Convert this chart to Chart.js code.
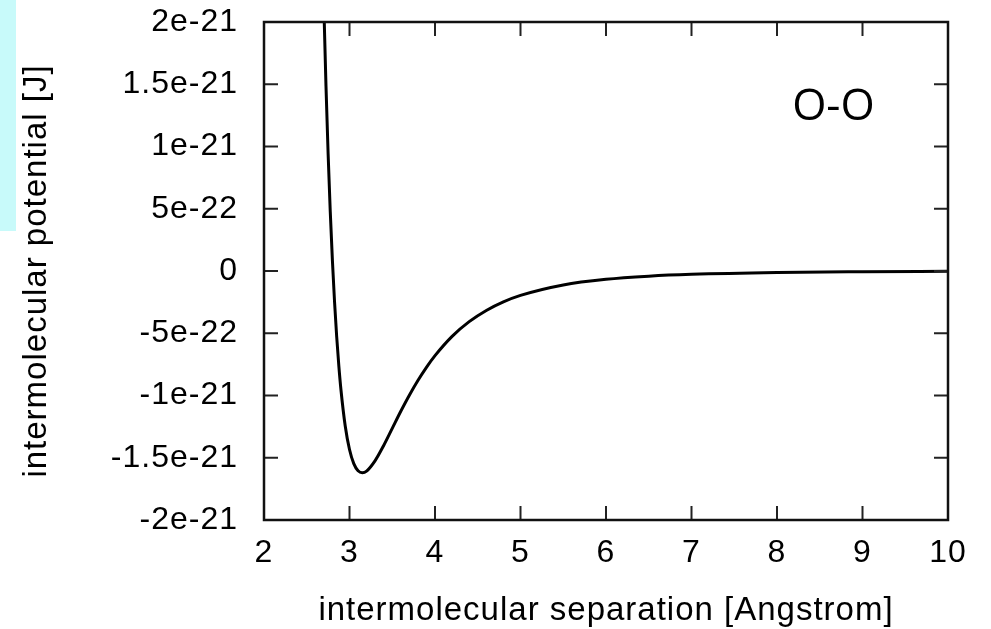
<!DOCTYPE html>
<html>
<head>
<meta charset="utf-8">
<script src="https://cdn.jsdelivr.net/npm/chart.js@4/dist/chart.umd.min.js"></script>
<style>
  html, body { margin: 0; padding: 0; background: #fff; }
  #wrap { position: relative; width: 991px; height: 629px; }
  #strip { position: absolute; left: 0; top: 0; width: 16px; height: 231px; background: #c8fafa; }
  #chart { position: absolute; left: 0; top: 0; }
</style>
</head>
<body>
<div id="wrap">
  <div id="strip"></div>
  <canvas id="chart" width="991" height="629"></canvas>
</div>
<script>
// separation [Angstrom] and potential [J]
const separation = [2.68, 2.70, 2.725, 2.75, 2.775, 2.80, 2.825, 2.85, 2.875, 2.90, 2.95, 3.00, 3.05, 3.10, 3.15, 3.20,
  3.30, 3.40, 3.50, 3.60, 3.70, 3.80, 3.90, 4.00, 4.20, 4.40, 4.60, 4.80, 5.00, 5.50, 6.00, 6.50, 7.00, 8.00, 9.00, 10.0];
const potential = [2.709e-21, 2.123e-21, 1.485e-21, 0.940e-21, 0.477e-21, 0.085e-21, -0.247e-21, -0.526e-21, -0.760e-21,
  -0.954e-21, -1.245e-21, -1.434e-21, -1.547e-21, -1.604e-21, -1.620e-21, -1.607e-21,
  -1.523e-21, -1.401e-21, -1.264e-21, -1.127e-21, -0.998e-21, -0.880e-21, -0.774e-21, -0.680e-21,
  -0.525e-21, -0.407e-21, -0.317e-21, -0.248e-21, -0.196e-21, -0.112e-21, -0.067e-21, -0.042e-21,
  -0.027e-21, -0.012e-21, -0.006e-21, -0.003e-21];

const xTickValues = [2, 3, 4, 5, 6, 7, 8, 9, 10];
const xTickLabels = ['2', '3', '4', '5', '6', '7', '8', '9', '10'];
const yTickValues = [-2e-21, -1.5e-21, -1e-21, -5e-22, 0, 5e-22, 1e-21, 1.5e-21, 2e-21];
const yTickLabels = ['-2e-21', '-1.5e-21', '-1e-21', '-5e-22', '0', '5e-22', '1e-21', '1.5e-21', '2e-21'];

const pairLabel = 'O-O';
const pairLabelX = 8.66;
const pairLabelY = 1.31e-21;

const TEXT = '#000';
const FONT = '"Liberation Sans", Arial, Helvetica, sans-serif';

// canvas resets its state on resize, so set the tracking each time
const spacingPlugin = {
  id: 'spacing',
  beforeUpdate(chart) { chart.ctx.letterSpacing = '1px'; },
  beforeLayout(chart) { chart.ctx.letterSpacing = '1px'; },
  beforeDraw(chart) { chart.ctx.letterSpacing = '1px'; }
};

// gnuplot style box with inward ticks on all four sides, plus the pair label
const framePlugin = {
  id: 'frame',
  afterDatasetsDraw(chart) {
    const { ctx, chartArea: a, scales: { x, y } } = chart;
    const tl = 14;
    ctx.save();
    ctx.strokeStyle = '#222';
    ctx.lineWidth = 2;
    ctx.beginPath();
    x.ticks.forEach(t => {
      const px = x.getPixelForValue(t.value);
      ctx.moveTo(px, a.bottom); ctx.lineTo(px, a.bottom - tl);
      ctx.moveTo(px, a.top); ctx.lineTo(px, a.top + tl);
    });
    y.ticks.forEach(t => {
      const py = y.getPixelForValue(t.value);
      ctx.moveTo(a.left, py); ctx.lineTo(a.left + tl, py);
      ctx.moveTo(a.right, py); ctx.lineTo(a.right - tl, py);
    });
    ctx.stroke();
    ctx.strokeStyle = '#111';
    ctx.lineWidth = 2.5;
    ctx.strokeRect(a.left, a.top, a.right - a.left, a.bottom - a.top);

    ctx.letterSpacing = '0px';
    ctx.font = '44px "Open Sans", sans-serif';
    ctx.fillStyle = TEXT;
    ctx.textAlign = 'center';
    ctx.textBaseline = 'middle';
    ctx.fillText(pairLabel, x.getPixelForValue(pairLabelX), y.getPixelForValue(pairLabelY));
    ctx.restore();
  }
};

new Chart(document.getElementById('chart'), {
  type: 'line',
  data: {
    datasets: [{
      data: separation.map((r, i) => ({ x: r, y: potential[i] })),
      borderColor: '#000',
      borderWidth: 3,
      pointRadius: 0,
      cubicInterpolationMode: 'monotone',
      fill: false
    }]
  },
  options: {
    responsive: false,
    devicePixelRatio: 1,
    animation: false,
    layout: { padding: { top: 0, right: 43, left: 0, bottom: 0 } },
    plugins: { legend: { display: false }, tooltip: { enabled: false } },
    scales: {
      x: {
        type: 'linear',
        min: 2, max: 10,
        grid: { display: false, drawTicks: false },
        border: { display: false },
        afterBuildTicks: s => { s.ticks = xTickValues.map(v => ({ value: v })); },
        afterFit: s => { s.height = 109; },
        ticks: {
          color: TEXT,
          padding: 14,
          maxRotation: 0,
          font: { family: FONT, size: 32 },
          callback: (v, i) => xTickLabels[i]
        },
        title: {
          display: true,
          text: 'intermolecular separation [Angstrom]',
          color: TEXT,
          font: { family: FONT, size: 33, lineHeight: 1 },
          padding: { top: 0, bottom: 1.5 }
        }
      },
      y: {
        type: 'linear',
        min: -2e-21, max: 2e-21,
        grid: { display: false, drawTicks: false },
        border: { display: false },
        afterBuildTicks: s => { s.ticks = yTickValues.map(v => ({ value: v })); },
        afterFit: s => { s.width = 264; s.paddingTop = 22; s.paddingBottom = 0; },
        ticks: {
          color: TEXT,
          padding: 26,
          font: { family: FONT, size: 32 },
          callback: (v, i) => yTickLabels[i]
        },
        title: {
          display: true,
          text: 'intermolecular potential [J]',
          color: TEXT,
          font: { family: FONT, size: 33, lineHeight: 1 },
          padding: { top: 20.5, bottom: 0 }
        }
      }
    }
  },
  plugins: [spacingPlugin, framePlugin]
});
</script>
</body>
</html>
